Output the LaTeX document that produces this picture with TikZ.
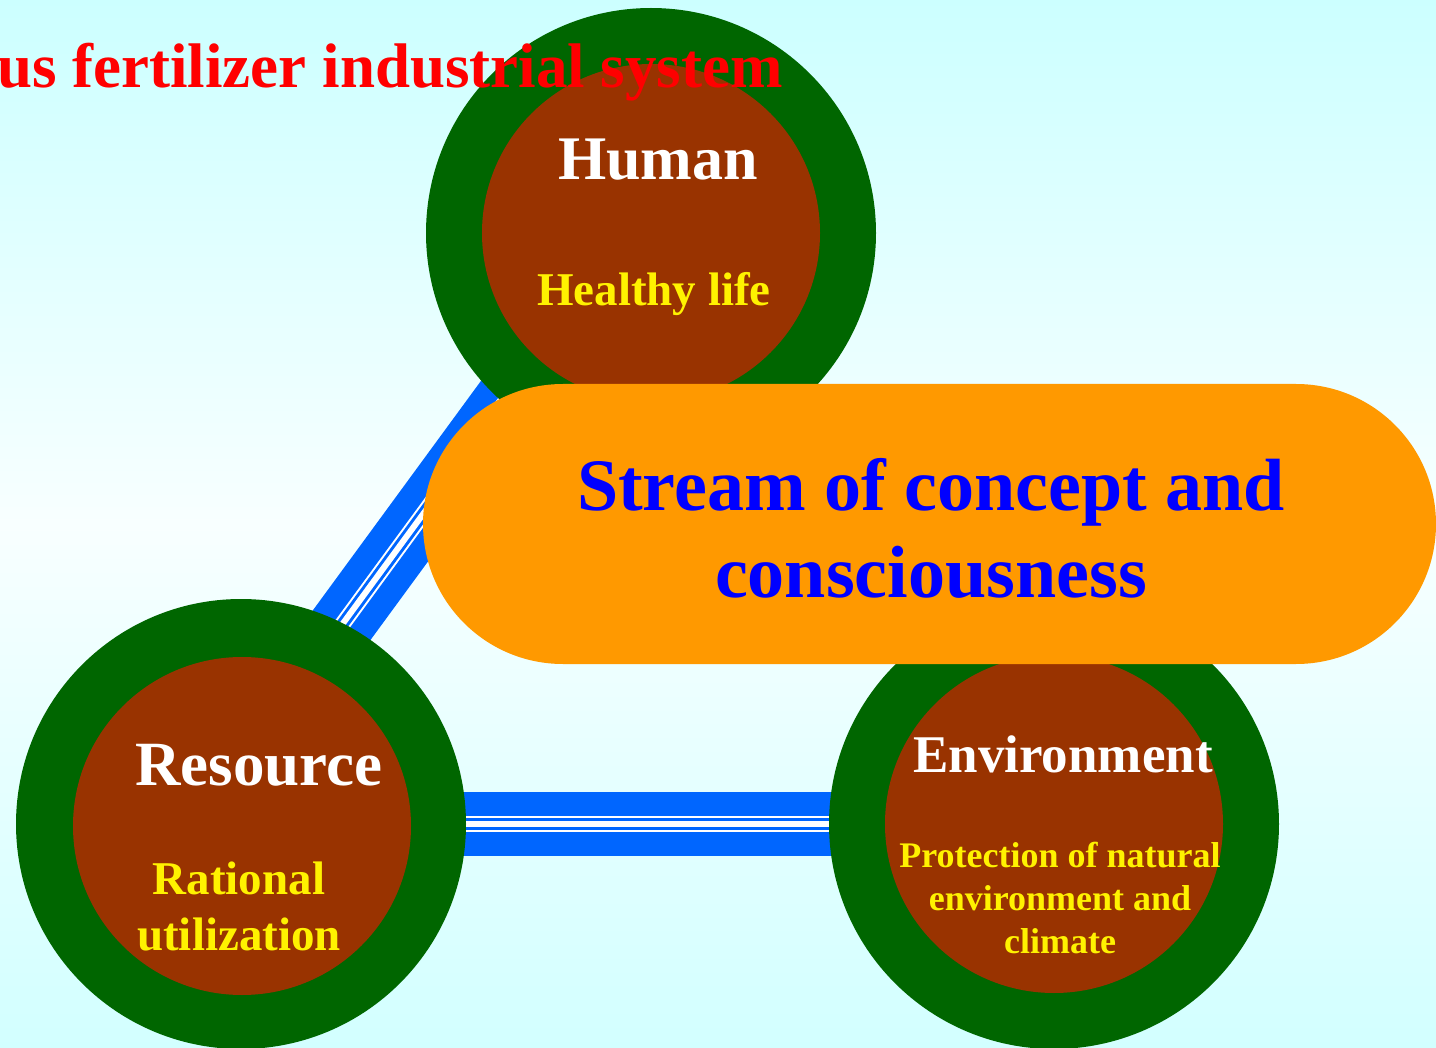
\documentclass[tikz,border=0pt]{standalone}
\usepackage{fontspec}
\setmainfont{Liberation Serif}
\usetikzlibrary{calc}
\definecolor{leaf}{HTML}{006600}
\definecolor{soil}{HTML}{993300}
\definecolor{flow}{HTML}{FF9900}
\definecolor{pipeblue}{HTML}{0066FF}
\definecolor{skytop}{HTML}{CCFFFF}
\definecolor{skybot}{HTML}{D2FFFF}
\definecolor{haze}{HTML}{F8FFFF}
\pgfdeclarelayer{back}
\pgfdeclarelayer{pipes}
\pgfsetlayers{back,pipes,main}
\tikzset{
  ring/.style = {circle, fill=leaf, inner sep=0pt, minimum size=450pt},
  core/.style = {circle, fill=soil, inner sep=0pt, minimum size=338pt},
  pipe/.style = {draw=pipeblue, line width=64pt,
    postaction={draw=white, line width=16pt},
    postaction={draw=pipeblue, line width=12pt},
    postaction={draw=white, line width=6pt}},% striped link
  streambox/.style = {rectangle, rounded corners=140pt, fill=flow,
    inner sep=0pt, minimum width=1013pt, minimum height=280pt},
  lbl/.style 2 args = {inner sep=0pt, align=center, anchor=base,
    font=\fontsize{#1}{#2}\selectfont\bfseries}% base = last line
}

\begin{document}
\begin{tikzpicture}[x=1pt, y=1pt]
\useasboundingbox (0,0) rectangle (1436,-1048);
\clip (0,0) rectangle (1436,-1048);
\begin{pgfonlayer}{back}
  \shade[top color=skytop, bottom color=skybot, middle color=haze]
    (0,0) rectangle (1436,-1048);
\end{pgfonlayer}
% the three spheres
\node (hum) [ring] at (651,-233) {};
\node (humcore) [core] at (hum.center) {};
\node (res) [ring] at (241,-824) {};
\node (rescore) [core] at (242,-826) {};
\node (env) [ring] at (1054,-824) {};
\node (envcore) [core] at (env.center) {};
%
\begin{pgfonlayer}{pipes}
  \draw[pipe] (res.center) -- (env.center);
  \draw[pipe] ($(res.center)+(-45,0)$) -- ($(hum.center)+(-22,0)$);
\end{pgfonlayer}
%
\node (stream) [streambox] at (929.5,-524) {};
\node (streamlbl) [lbl={74}{87}, blue] at (931,-597)
  {Stream of concept and\\consciousness};
%
\node (humlbl) [lbl={62}{70}, white] at (658,-180) {Human};
\node (humgoal) [lbl={47}{56}, yellow] at (654,-306) {Healthy life};
\node (reslbl) [lbl={63}{70}, white] at (259,-785) {Resource};
\node (resgoal) [lbl={47}{56}, yellow] at (239,-950) {Rational\\utilization};
\node (envlbl) [lbl={53}{60}, white] at (1063,-772) {Environment};
\node (envgoal) [lbl={36}{43}, yellow] at (1060,-953)
  {Protection of natural\\environment and\\climate};
%
\node (title) [lbl={63}{70}, red, anchor=base east] at (783,-88)
  {us fertilizer industrial system};
\end{tikzpicture}
\end{document}
